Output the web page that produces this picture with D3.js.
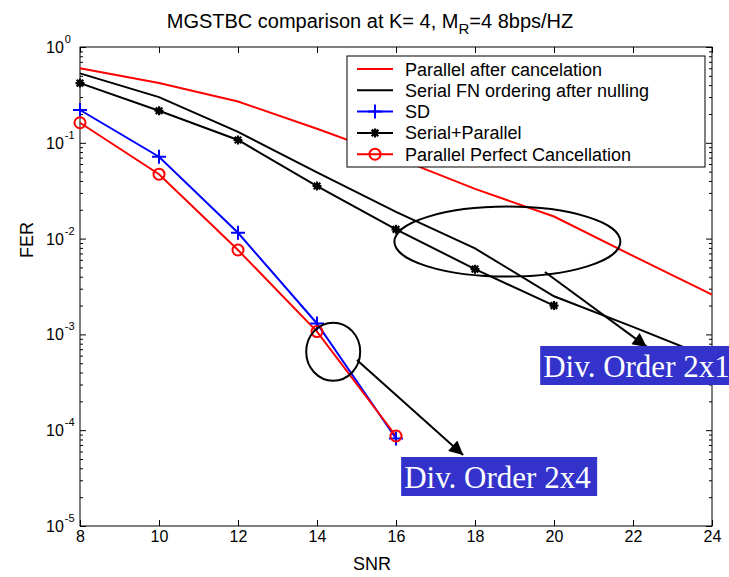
<!DOCTYPE html>
<html>
<head>
<meta charset="utf-8">
<script src="https://cdn.jsdelivr.net/npm/d3@7"></script>
<style>
  body { margin: 0; background: #fff; }
  svg { display: block; }
  text { font-family: "Liberation Sans", Arial, sans-serif; }
  text.boxlabel { font-family: "Liberation Serif", "Times New Roman", serif; }
</style>
</head>
<body>
<div id="chart"></div>
<script>
// x values (SNR)
var snr = [8, 10, 12, 14, 16, 18, 20, 22, 24];
// FER per series
var parallelCancel = [0.60, 0.42, 0.27, 0.14, 0.07, 0.033, 0.017, 0.0066, 0.0026];
var serialFN = [0.53, 0.30, 0.13, 0.049, 0.019, 0.0079, 0.0025, 0.0012, 0.00056];
var sdFER = [0.22, 0.0716, 0.0115, 0.0013, 0.000082];
var serialParallel = [0.42, 0.216, 0.107, 0.0354, 0.0125, 0.0048, 0.0020];
var perfectCancel = [0.162, 0.047, 0.0076, 0.00107, 0.000087];

var legendNames = ["Parallel after cancelation", "Serial FN ordering after nulling", "SD", "Serial+Parallel", "Parallel Perfect Cancellation"];
var xTicks = [8, 10, 12, 14, 16, 18, 20, 22, 24];
var yExps = [0, -1, -2, -3, -4, -5];

var W = 729, H = 577;
// note: "top" is taken by window.top, so use other names
var pLeft = 80, pRight = 712, pTop = 47, pBottom = 526;

var svg = d3.select("#chart").append("svg")
  .attr("width", W)
  .attr("height", H);
svg.append("rect").attr("width", W).attr("height", H).attr("fill", "#fff");

var x = d3.scaleLinear().domain([8, 24]).range([pLeft, pRight]);
var y = d3.scaleLog().domain([1e-5, 1]).range([pBottom, pTop]);

var series = [
  {vals: parallelCancel, color: "red", marker: "none"},
  {vals: serialFN, color: "black", marker: "none"},
  {vals: sdFER, color: "blue", marker: "plus"},
  {vals: serialParallel, color: "black", marker: "star"},
  {vals: perfectCancel, color: "red", marker: "circle"}
];

// minor ticks for the log axis
var minor = [];
for (var e = -5; e < 0; e++) {
  for (var m = 2; m < 10; m++) minor.push(m * Math.pow(10, e));
}
var major = yExps.map(function(d){ return Math.pow(10, d); });

// ticks, all inward
svg.append("g").attr("transform", "translate(0," + pBottom + ")")
  .call(d3.axisBottom(x).tickValues(xTicks).tickSize(-6).tickPadding(5).tickFormat(d3.format("d")))
  .call(function(g){ g.select(".domain").remove(); })
  .selectAll("text").attr("font-size", 16).attr("fill", "#000");
svg.append("g").attr("transform", "translate(0," + pTop + ")")
  .call(d3.axisTop(x).tickValues(xTicks).tickSize(-6).tickFormat(""))
  .call(function(g){ g.select(".domain").remove(); });
svg.append("g").attr("transform", "translate(" + pLeft + ",0)")
  .call(d3.axisLeft(y).tickValues(major).tickSize(-6).tickFormat(""))
  .call(function(g){ g.select(".domain").remove(); });
svg.append("g").attr("transform", "translate(" + pLeft + ",0)")
  .call(d3.axisLeft(y).tickValues(minor).tickSize(-3).tickFormat(""))
  .call(function(g){ g.select(".domain").remove(); });
svg.append("g").attr("transform", "translate(" + pRight + ",0)")
  .call(d3.axisRight(y).tickValues(major).tickSize(-6).tickFormat(""))
  .call(function(g){ g.select(".domain").remove(); });
svg.append("g").attr("transform", "translate(" + pRight + ",0)")
  .call(d3.axisRight(y).tickValues(minor).tickSize(-3).tickFormat(""))
  .call(function(g){ g.select(".domain").remove(); });

// y labels 10^e
var ylab = svg.selectAll("text.ylab")
  .data(yExps)
  .enter()
  .append("text")
  .attr("class", "ylab")
  .attr("x", 46)
  .attr("y", function(d){ return y(Math.pow(10, d)) + 6; })
  .attr("font-size", 16);
ylab.append("tspan").text("10");
ylab.append("tspan").attr("dx", 1).attr("dy", -10).attr("font-size", 11).text(function(d){ return d; });

// axes box
svg.append("rect")
  .attr("x", pLeft).attr("y", pTop)
  .attr("width", pRight - pLeft).attr("height", pBottom - pTop)
  .attr("fill", "none").attr("stroke", "#000").attr("stroke-width", 1);

// lines
var line = d3.line()
  .x(function(d, i){ return x(snr[i]); })
  .y(function(d){ return y(d); });

svg.selectAll("path.series")
  .data(series)
  .enter()
  .append("path")
  .attr("class", "series")
  .attr("d", function(d){ return line(d.vals); })
  .attr("fill", "none")
  .attr("stroke", function(d){ return d.color; })
  .attr("stroke-width", 2);

function drawMarker(g, kind, color, cx, cy) {
  if (kind == "plus") {
    g.append("path").attr("d", "M" + (cx - 7) + "," + cy + "H" + (cx + 7) + "M" + cx + "," + (cy - 7) + "V" + (cy + 7))
      .attr("stroke", color).attr("stroke-width", 2);
  } else if (kind == "star") {
    var s = 4.5, t = 3.3;
    g.append("path").attr("d", "M" + (cx - s) + "," + cy + "H" + (cx + s) + "M" + cx + "," + (cy - s) + "V" + (cy + s) +
      "M" + (cx - t) + "," + (cy - t) + "L" + (cx + t) + "," + (cy + t) + "M" + (cx - t) + "," + (cy + t) + "L" + (cx + t) + "," + (cy - t))
      .attr("stroke", color).attr("stroke-width", 2.2);
  } else if (kind == "circle") {
    g.append("circle").attr("cx", cx).attr("cy", cy).attr("r", 5.5)
      .attr("fill", "none").attr("stroke", color).attr("stroke-width", 2);
  }
}

series.forEach(function(s){
  if (s.marker == "none") return;
  var g = svg.append("g");
  s.vals.forEach(function(v, i){ drawMarker(g, s.marker, s.color, x(snr[i]), y(v)); });
});

// legend
var lg = svg.append("g");
lg.append("rect").attr("x", 347).attr("y", 56).attr("width", 358).attr("height", 111)
  .attr("fill", "#fff").attr("stroke", "#000").attr("stroke-width", 1);
legendNames.forEach(function(name, i){
  var cy = 69 + i * 21.3;
  lg.append("line").attr("x1", 357).attr("x2", 393).attr("y1", cy).attr("y2", cy)
    .attr("stroke", series[i].color).attr("stroke-width", 2);
  drawMarker(lg, series[i].marker, series[i].color, 375, cy);
  lg.append("text").attr("x", 405).attr("y", cy + 6.5).attr("font-size", 18).text(name);
});

// title and axis labels
var title = svg.append("text").attr("x", 370).attr("y", 28).attr("text-anchor", "middle").attr("font-size", 20);
title.append("tspan").text("MGSTBC comparison at K= 4, M");
title.append("tspan").attr("dy", 6).attr("font-size", 15).text("R");
title.append("tspan").attr("dy", -6).text("=4 8bps/HZ");

svg.append("text").attr("x", 372).attr("y", 570).attr("text-anchor", "middle").attr("font-size", 18).text("SNR");
svg.append("text").attr("transform", "translate(33,240) rotate(-90)").attr("text-anchor", "middle").attr("font-size", 18).text("FER");

// annotations (positions in data units)
svg.append("defs").append("marker")
  .attr("id", "head").attr("viewBox", "0 0 10 10").attr("refX", 10).attr("refY", 5)
  .attr("markerWidth", 8).attr("markerHeight", 7).attr("markerUnits", "strokeWidth").attr("orient", "auto")
  .append("path").attr("d", "M0,0L10,5L0,10Z").attr("fill", "#000");

var annoCircles = [
  {snr: 14.41, fer: 6.6e-4, rx: 27, ry: 29},
  {snr: 18.82, fer: 0.0093, rx: 113, ry: 35}
];
var annoArrows = [
  {x1: 15.01, y1: 5.4e-4, x2: 17.70, y2: 5.5e-5},
  {x1: 19.77, y1: 4.48e-3, x2: 22.35, y2: 7.4e-4}
];
var annoBoxes = [
  {snr: 19.65, fer: 7.57e-4, label: "Div. Order 2x1"},
  {snr: 16.13, fer: 5.25e-5, label: "Div. Order 2x4"}
];

svg.selectAll("ellipse.anno").data(annoCircles).enter().append("ellipse")
  .attr("class", "anno")
  .attr("cx", function(d){ return x(d.snr); })
  .attr("cy", function(d){ return y(d.fer); })
  .attr("rx", function(d){ return d.rx; })
  .attr("ry", function(d){ return d.ry; })
  .attr("fill", "none").attr("stroke", "#000").attr("stroke-width", 2);

svg.selectAll("line.anno").data(annoArrows).enter().append("line")
  .attr("class", "anno")
  .attr("x1", function(d){ return x(d.x1); })
  .attr("y1", function(d){ return y(d.y1); })
  .attr("x2", function(d){ return x(d.x2); })
  .attr("y2", function(d){ return y(d.y2); })
  .attr("stroke", "#000").attr("stroke-width", 2)
  .attr("marker-end", "url(#head)");

var boxes = svg.selectAll("g.anno").data(annoBoxes).enter().append("g")
  .attr("class", "anno")
  .attr("transform", function(d){ return "translate(" + x(d.snr) + "," + y(d.fer) + ")"; });
boxes.append("rect").attr("width", 196).attr("height", 39).attr("fill", "#3333cc");
boxes.append("text").attr("class", "boxlabel").attr("x", 3).attr("y", 31)
  .attr("font-size", 31).attr("fill", "#fff")
  .text(function(d){ return d.label; });
</script>
</body>
</html>
